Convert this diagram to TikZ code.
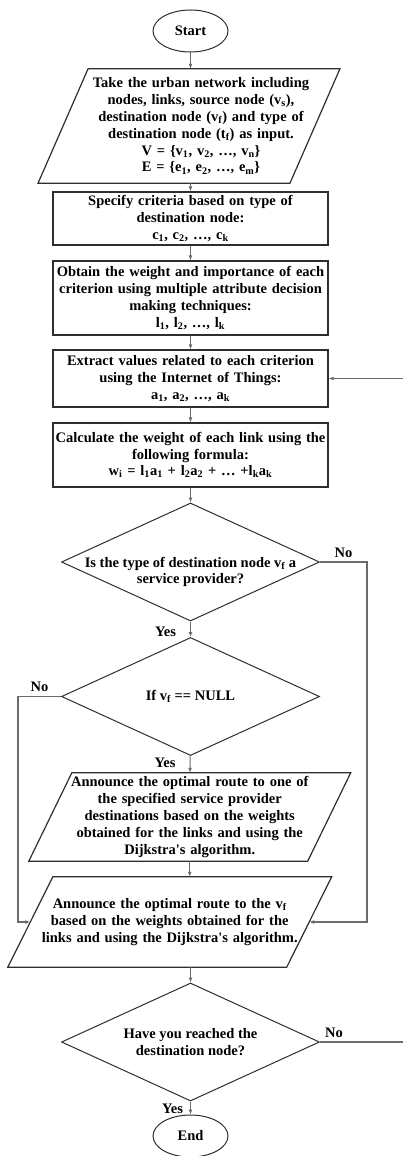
\documentclass[tikz,border=0pt]{standalone}
\usepackage{fontspec}
\setmainfont{Liberation Serif}
\usepackage{tikz}
\usetikzlibrary{arrows.meta}
\tikzset{>={Latex[length=5,width=4]}}
\usetikzlibrary{calc,shapes.geometric}
\usepackage{xcolor}
\colorlet{mylinegray}{black!58}
\colorlet{myframe}{black!82}

\begin{document}
\begin{tikzpicture}[x=1pt,y=-1pt,
    font=\fontsize{14.5}{16.8}\selectfont\bfseries,
    arrow/.style={->,mylinegray,line width=1.1pt},
    terminal/.style={ellipse,draw=myframe,line width=1pt,minimum width=75pt,minimum height=42pt,inner sep=0},
    process/.style={draw=myframe,line width=1.2pt,minimum width=275pt,text width=272pt,align=center,inner sep=0},
    iobox/.style={align=center,inner sep=0},
    decision/.style={diamond,draw=myframe,line width=1pt,minimum width=258pt,minimum height=118pt,aspect=2.2,inner sep=-8pt,align=center},
    answer/.style={inner sep=0,text=black}]
    \useasboundingbox (0,0) rectangle (403,1156);

    \node[terminal] (start) at (190.5,31) {Start};
    \node[iobox,minimum width=251.5pt,minimum height=114pt,text width=240pt] (in) at (201,126)
        {Take the urban network including\\
         nodes, links, source node (v\textsubscript{s}),\\
         destination node (v\textsubscript{f}) and type of\\
         destination node (t\textsubscript{f}) as input.\\
         V = \{v\textsubscript{1}, v\textsubscript{2}, \dots, v\textsubscript{n}\}\\
         E = \{e\textsubscript{1}, e\textsubscript{2}, \dots, e\textsubscript{m}\}};
    \node[process,minimum height=53pt] (crit) at (190.5,218.5)
        {Specify criteria based on type of\\ destination node:\\
         c\textsubscript{1}, c\textsubscript{2}, \dots, c\textsubscript{k}};
    \node[process,minimum height=74pt] (weight) at (190.5,298)
        {Obtain the weight and importance of each\\ criterion using multiple attribute decision\\ making techniques:\\
         l\textsubscript{1}, l\textsubscript{2}, \dots, l\textsubscript{k}};
    \node[process,minimum height=57pt] (iot) at (190.5,378.5)
        {Extract values related to each criterion\\ using the Internet of Things:\\
         a\textsubscript{1}, a\textsubscript{2}, \dots, a\textsubscript{k}};
    \node[process,minimum height=64pt] (calc) at (190.5,455)
        {Calculate the weight of each link using the\\ following formula:\\
         w\textsubscript{i} = l\textsubscript{1}a\textsubscript{1} + l\textsubscript{2}a\textsubscript{2} + \dots{} +l\textsubscript{k}a\textsubscript{k}};

    \node[decision] (q1) at (190.5,562) {};
    \node[answer,align=center] (q1text) at ([yshift=-10pt]q1.center)
        {Is the type of destination node v\textsubscript{f} a\\ service provider?};
    \node[decision] (q2) at (190.5,696.5) {If v\textsubscript{f} == NULL};
    \node[iobox,minimum width=278.5pt,minimum height=88pt,text width=270pt] (ann) at (189.75,817)
        {Announce the optimal route to one of\\ the specified service provider\\ destinations based on the weights\\
         obtained for the links and using the\\ Dijkstra\textquotesingle s algorithm.};
    \node[iobox,minimum width=278.5pt,minimum height=90pt,text width=270pt] (out) at (169.75,922)
        {Announce the optimal route to the v\textsubscript{f}\\ based on the weights obtained for the\\
         links and using the Dijkstra\textquotesingle s algorithm.};
    \node[decision] (q3) at (190.5,1042) {Have you reached the\\ destination node?};
    \node[terminal] (end) at (190.5,1136) {End};

    % slanted frames of the input/output boxes
    \foreach \n/\s/\dx in {in/25/-12, ann/21.5/0, out/22.5/0}
        \draw[myframe,line width=1.2pt] ([xshift={\dx pt+\s pt}]\n.north west) -- ([xshift={\dx pt+\s pt}]\n.north east)
            -- ([xshift={\dx pt-\s pt}]\n.south east) -- ([xshift={\dx pt-\s pt}]\n.south west) -- cycle;

    \draw[arrow] (start) -- (start |- in.north);
    \draw[arrow] (crit.north |- in.south) -- (crit);
    \draw[arrow] (crit) -- (weight);
    \draw[arrow] (weight) -- (iot);
    \draw[arrow] (iot) -- (calc);
    \draw[arrow] (calc) -- (q1);

    \draw[arrow] (q1) -- node[answer,left=14pt,pos=0.65] {Yes} (q2);
    \draw[arrow] (q1.east) -- node[answer,above=4pt] {No} ++(47,0) |- (out.east);
    \draw[arrow] (q2) -- node[answer,left=14pt,pos=0.4] {Yes} (ann);
    \draw[arrow] (q2.west) -- node[answer,above=4pt] {No} ++(-43,0) |- (out.west);
    \draw[arrow] (ann) -- (ann |- out.north);
    \draw[arrow] (q3.north |- out.south) -- (q3);
    \draw[arrow] (q3.east) -- node[answer,above=4pt,pos=0.16] {No} ++(87,0) |- (iot.east);
    \draw[arrow] (q3) -- node[answer,left=7pt,pos=0.57] {Yes} (end);
\end{tikzpicture}
\end{document}
